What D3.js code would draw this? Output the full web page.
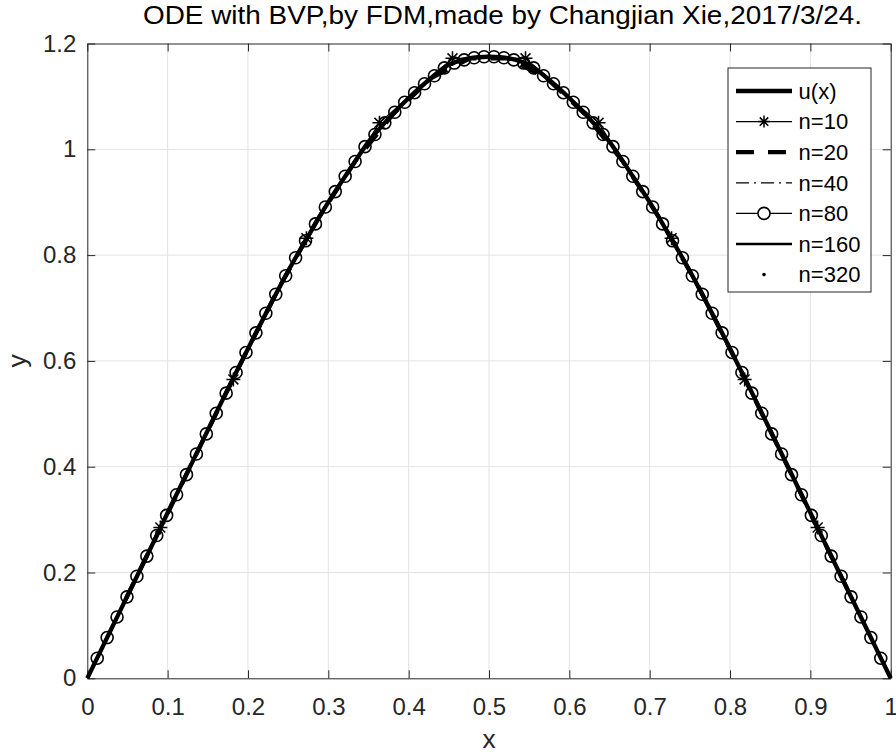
<!DOCTYPE html>
<html>
<head>
<meta charset="utf-8">
<script src="https://cdn.jsdelivr.net/npm/d3@7"></script>
<style>
  html, body { margin: 0; padding: 0; background: #fff; }
  svg { display: block; font-family: "Liberation Sans", Arial, sans-serif; }
</style>
</head>
<body>
<svg id="chart" width="896" height="754"></svg>
<script>
// exact solution u(x), read at x = 0, 0.025, ..., 1
const uStep = 0.025;
const uValues = [0, 0.078, 0.156, 0.234, 0.313, 0.391, 0.469, 0.547, 0.623, 0.698, 0.770,
  0.836, 0.900, 0.958, 1.014, 1.058, 1.097, 1.131, 1.160, 1.172, 1.175,
  1.172, 1.160, 1.131, 1.097, 1.058, 1.014, 0.958, 0.900, 0.836, 0.770,
  0.698, 0.623, 0.547, 0.469, 0.391, 0.313, 0.234, 0.156, 0.078, 0];

// FDM solutions at interior nodes x_i = i/(n+1)
const n10 = [0.285, 0.565, 0.832, 1.050, 1.172, 1.172, 1.050, 0.832, 0.565, 0.285];
const n20 = [0.149, 0.297, 0.446, 0.594, 0.737, 0.865, 0.977, 1.067, 1.135, 1.172,
  1.172, 1.135, 1.067, 0.977, 0.865, 0.737, 0.594, 0.446, 0.297, 0.149];
const n40 = [0.076, 0.152, 0.228, 0.305, 0.381, 0.457, 0.533, 0.608, 0.682, 0.753,
  0.818, 0.881, 0.940, 0.995, 1.042, 1.082, 1.117, 1.147, 1.166, 1.174,
  1.174, 1.166, 1.147, 1.117, 1.082, 1.042, 0.995, 0.940, 0.881, 0.818,
  0.753, 0.682, 0.608, 0.533, 0.457, 0.381, 0.305, 0.228, 0.152, 0.076];
const n80 = [0.038, 0.077, 0.116, 0.154, 0.193, 0.231, 0.270, 0.308, 0.347, 0.385,
  0.424, 0.462, 0.501, 0.539, 0.578, 0.616, 0.653, 0.690, 0.726, 0.761,
  0.795, 0.827, 0.859, 0.891, 0.920, 0.949, 0.977, 1.005, 1.028, 1.050,
  1.070, 1.089, 1.107, 1.124, 1.139, 1.154, 1.163, 1.169, 1.173, 1.175,
  1.175, 1.173, 1.169, 1.163, 1.154, 1.139, 1.124, 1.107, 1.089, 1.070,
  1.050, 1.028, 1.005, 0.977, 0.949, 0.920, 0.891, 0.859, 0.827, 0.795,
  0.761, 0.726, 0.690, 0.653, 0.616, 0.578, 0.539, 0.501, 0.462, 0.424,
  0.385, 0.347, 0.308, 0.270, 0.231, 0.193, 0.154, 0.116, 0.077, 0.038];
// n=160 and n=320 lie exactly under u(x) at this size, so only their legend rows are shown

const legendLabels = ["u(x)", "n=10", "n=20", "n=40", "n=80", "n=160", "n=320"];
const xTicks = [0, 0.1, 0.2, 0.3, 0.4, 0.5, 0.6, 0.7, 0.8, 0.9, 1];
const yTicks = [0, 0.2, 0.4, 0.6, 0.8, 1, 1.2];
const titleText = "ODE with BVP,by FDM,made by Changjian Xie,2017/3/24.";

const mLeft = 87.3, mRight = 890.7, mTop = 43.5, mBottom = 678.3;
const axisColor = "#262626";

const svg = d3.select("#chart");
const x = d3.scaleLinear().domain([0, 1]).range([mLeft, mRight]);
const y = d3.scaleLinear().domain([0, 1.2]).range([mBottom, mTop]);

// grid
const grid = svg.append("g").attr("stroke", "#e3e3e3").attr("stroke-width", 1);
grid.selectAll(".gx").data(xTicks.slice(1, -1)).enter().append("line")
  .attr("x1", d => x(d)).attr("x2", d => x(d)).attr("y1", mTop).attr("y2", mBottom);
grid.selectAll(".gy").data(yTicks.slice(1, -1)).enter().append("line")
  .attr("y1", d => y(d)).attr("y2", d => y(d)).attr("x1", mLeft).attr("x2", mRight);

// axes (ticks pointing inward, box on)
function styleAxis(g) {
  g.select(".domain").attr("stroke", axisColor).attr("stroke-width", 1);
  g.selectAll(".tick line").attr("stroke", axisColor).attr("stroke-width", 1);
  g.selectAll(".tick text").attr("fill", axisColor).attr("font-size", 24)
    .attr("font-family", "Liberation Sans, Arial, sans-serif");
}
const fmt = d => String(+d.toFixed(1));
svg.append("g").attr("transform", `translate(0,${mBottom})`)
  .call(d3.axisBottom(x).tickValues(xTicks).tickFormat(fmt).tickSizeInner(-8).tickSizeOuter(0).tickPadding(20))
  .call(styleAxis);
svg.append("g").attr("transform", `translate(${mLeft},0)`)
  .call(d3.axisLeft(y).tickValues(yTicks).tickFormat(fmt).tickSizeInner(-8).tickSizeOuter(0).tickPadding(11))
  .call(styleAxis);
svg.append("g").attr("transform", `translate(0,${mTop})`)
  .call(d3.axisTop(x).tickValues(xTicks).tickFormat("").tickSizeInner(-8).tickSizeOuter(0))
  .call(styleAxis);
svg.append("g").attr("transform", `translate(${mRight},0)`)
  .call(d3.axisRight(y).tickValues(yTicks).tickFormat("").tickSizeInner(-8).tickSizeOuter(0))
  .call(styleAxis);

// series
const nodes = vals => vals.map((v, i) => ({ x: (i + 1) / (vals.length + 1), y: v }));
const uPts = uValues.map((v, i) => ({ x: i * uStep, y: v }));
const line = d3.line().x(d => x(d.x)).y(d => y(d.y));
const smooth = d3.line().x(d => x(d.x)).y(d => y(d.y)).curve(d3.curveCatmullRom);
const plot = svg.append("g").attr("fill", "none").attr("stroke", "#000");

plot.append("path").datum(uPts).attr("d", smooth).attr("stroke-width", 4.3);
plot.append("path").datum(nodes(n10)).attr("d", line).attr("stroke-width", 1.3);
plot.append("path").datum(nodes(n20)).attr("d", line).attr("stroke-width", 4.3).attr("stroke-dasharray", "18,14");
plot.append("path").datum(nodes(n40)).attr("d", line).attr("stroke-width", 1.3).attr("stroke-dasharray", "13,5,2,5");
plot.append("path").datum(nodes(n80)).attr("d", line).attr("stroke-width", 1.3);

const starPath = (cx, cy, r) => {
  const s = r * 0.7071;
  return `M${cx - r},${cy}H${cx + r}M${cx},${cy - r}V${cy + r}` +
    `M${cx - s},${cy - s}L${cx + s},${cy + s}M${cx - s},${cy + s}L${cx + s},${cy - s}`;
};
plot.selectAll(".star").data(nodes(n10)).enter().append("path")
  .attr("d", d => starPath(x(d.x), y(d.y), 7)).attr("stroke-width", 1.5);
plot.selectAll(".circ").data(nodes(n80)).enter().append("circle")
  .attr("cx", d => x(d.x)).attr("cy", d => y(d.y)).attr("r", 6).attr("stroke-width", 1.6);

// title and labels
svg.append("text").attr("x", 502.5).attr("y", 24).attr("text-anchor", "middle")
  .attr("font-size", 25.5).attr("textLength", 719).attr("lengthAdjust", "spacingAndGlyphs")
  .attr("fill", "#000").text(titleText);
svg.append("text").attr("x", (mLeft + mRight) / 2).attr("y", 748).attr("text-anchor", "middle")
  .attr("font-size", 26.4).attr("fill", axisColor).text("x");
svg.append("text").attr("transform", `translate(26,${y(0.6)}) rotate(-90)`).attr("text-anchor", "middle")
  .attr("font-size", 26.4).attr("fill", axisColor).text("y");

// legend
const lg = svg.append("g");
lg.append("rect").attr("x", 728).attr("y", 68).attr("width", 143).attr("height", 224)
  .attr("fill", "#fff").attr("stroke", axisColor).attr("stroke-width", 1);
const rowY = k => 91 + 30.6 * k;
const lx1 = 736, lx2 = 792, lmid = 764;
const rows = lg.selectAll(".row").data(legendLabels).enter().append("g");
rows.append("text").attr("x", 798.6).attr("y", (d, k) => rowY(k)).attr("dy", "0.35em")
  .attr("font-size", 22).attr("fill", "#000").text(d => d);
const sample = [
  { w: 4.3, dash: null }, { w: 1.3, dash: null }, { w: 4.3, dash: "18,14" },
  { w: 1.3, dash: "13,5,2,5" }, { w: 1.3, dash: null }, { w: 2.7, dash: null }, null
];
sample.forEach((s, k) => {
  if (!s) return;
  lg.append("line").attr("x1", lx1).attr("x2", lx2).attr("y1", rowY(k)).attr("y2", rowY(k))
    .attr("stroke", "#000").attr("stroke-width", s.w).attr("stroke-dasharray", s.dash);
});
lg.append("path").attr("d", starPath(lmid, rowY(1), 6)).attr("stroke", "#000").attr("stroke-width", 1.5);
lg.append("circle").attr("cx", lmid).attr("cy", rowY(4)).attr("r", 6)
  .attr("fill", "#fff").attr("stroke", "#000").attr("stroke-width", 1.6);
lg.append("circle").attr("cx", lmid).attr("cy", rowY(6)).attr("r", 1.8).attr("fill", "#000");
</script>
</body>
</html>
